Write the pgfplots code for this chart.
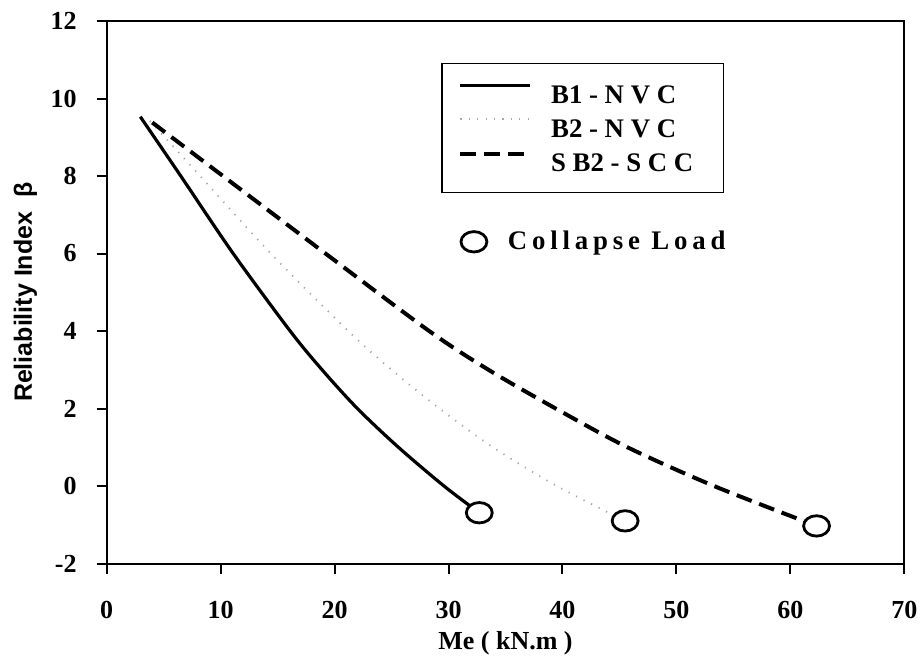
\documentclass[border=0pt]{standalone}
\usepackage{pgfplots}
\pgfplotsset{compat=1.18}
\usepackage{fontspec}
\setmainfont{Liberation Serif}
\setsansfont{Liberation Sans}
\newfontfamily\spacedfont[LetterSpace=18]{Liberation Serif}

% same frame for the main axis and the overlay that carries the collapse loads
\pgfplotsset{
  beamframe/.style={
    scale only axis, width=398.8pt, height=271.25pt,
    xmin=0, xmax=70, ymin=-2, ymax=12,
  },
  collapse legend/.style={
    legend image code/.code={\draw[mark repeat=2, mark phase=2, ##1]
      plot coordinates {(-6pt,0pt) (0pt,0pt) (6pt,0pt)};}},
}

\pgfplotstableread{
x y
2.95 9.53
6.5 8.00
11.1 6.00
16.1 4.00
18.9 3.00
22.0 2.00
25.6 1.00
29.6 0.00
32.7 -0.69
}\beamBone

\pgfplotstableread{
x y
3.8 9.42
8.2 8.00
14.4 6.00
21.2 4.00
25.0 3.00
29.2 2.00
33.9 1.00
39.5 0.00
45.5 -0.90
}\beamBtwo

\pgfplotstableread{
x y
4.0 9.38
10.2 8.00
19.2 6.00
28.3 4.00
33.5 3.00
39.4 2.00
45.7 1.00
53.3 0.00
62.3 -1.03
}\beamSBtwo

\begin{document}
\begin{tikzpicture}
\path[use as bounding box] (-53.35pt,-48.35pt) rectangle (407.15pt,281.75pt);
\begin{axis}[
  beamframe,
  xtick={0,10,...,70}, xticklabels={0,10,20,30,40,50,60,70},
  ytick={-2,0,...,12}, yticklabels={-2,0,2,4,6,8,10,12},
  xtick pos=bottom, ytick pos=left, tick align=outside,
  major tick length=5pt,
  axis line style={line width=1pt},
  every tick/.style={black, line width=1pt},
  ticklabel style={font=\bfseries\fontsize{13}{13}\selectfont, inner sep=0pt},
  xticklabel style={anchor=center, yshift=-18.35pt},
  yticklabel style={anchor=east, xshift=-9.85pt},
  xlabel={Me ( kN.m )},
  xlabel style={at={(axis description cs:0.5,-0.1469)}, anchor=center,
    font=\bfseries\fontsize{13}{13}\selectfont},
  ylabel={Reliability Index\ \ β},
  ylabel style={at={(axis description cs:-0.1018,0.5)}, anchor=center,
    font=\sffamily\bfseries\fontsize{12.5}{12.5}\selectfont},
  legend style={at={(axis description cs:0.4191,0.9232)}, anchor=north west,
    draw=black, line width=0.8pt, inner xsep=8.35pt, inner ysep=10.3pt,
    row sep=7.5pt, column sep=9.35pt,
    font=\bfseries\fontsize{13.4}{13.4}\selectfont,
    nodes={inner sep=0pt, text height=9pt, text depth=0pt}},
  legend cell align=left,
  legend image code/.code={\draw[#1] (0pt,4.4pt) -- (35pt,4.4pt);},
]
\addplot[black, line width=1.6pt, smooth] table {\beamBone};
\addlegendentry{\makebox[77.8pt][l]{B1 - N V C}}
\addplot[gray!70, line width=0.9pt, dash pattern=on 0.6pt off 3.6pt, smooth] table {\beamBtwo};
\addlegendentry{B2 - N V C}
\addplot[black, line width=2pt, dash pattern=on 8pt off 4pt, smooth] table {\beamSBtwo};
\addlegendentry{S B2 - S C C}
\end{axis}

\begin{axis}[
  beamframe, hide axis,
  legend style={at={(axis description cs:0.4437,0.593)}, anchor=west,
    draw=none, fill=none, inner sep=0pt, column sep=10.5pt,
    font=\spacedfont\bfseries\fontsize{13.4}{13.4}\selectfont,
    nodes={inner sep=0pt}},
]
\addplot[only marks, mark=*, mark size=6pt,
  mark options={fill=white, draw=black, line width=1.4pt, xscale=1.08, yscale=0.85},
  collapse legend]
  coordinates {(32.7,-0.69) (45.5,-0.90) (62.3,-1.03)};
\addlegendentry{Collapse Load}
\end{axis}
\end{tikzpicture}
\end{document}
